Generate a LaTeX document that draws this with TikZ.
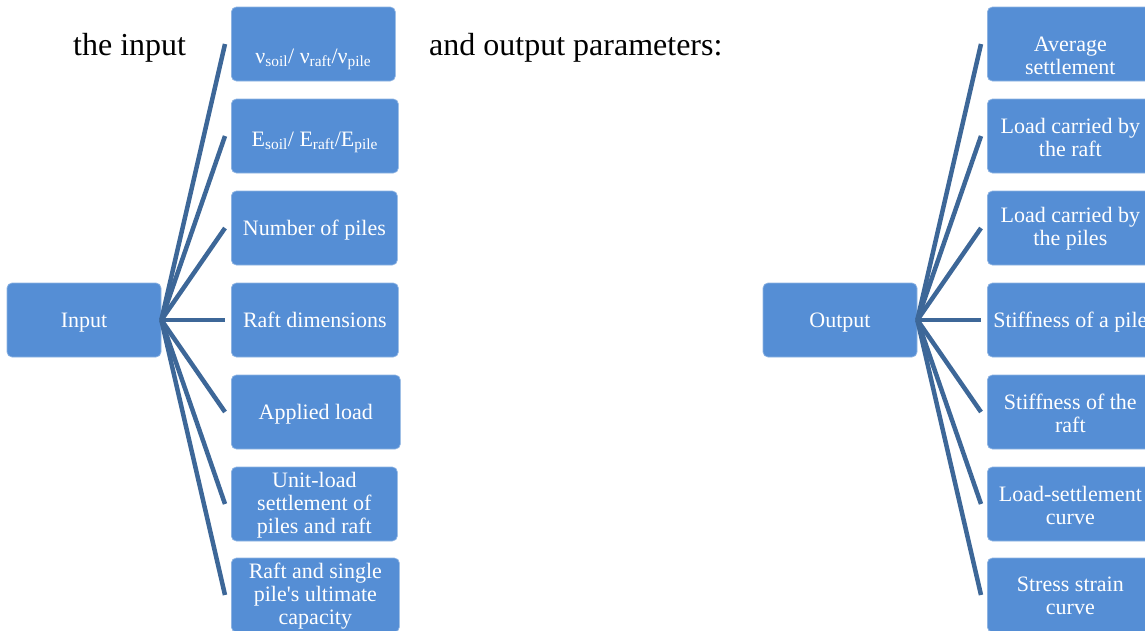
\documentclass[tikz,border=0pt]{standalone}
\usepackage{fontspec}
\setmainfont{Liberation Serif}[Ligatures=TeXOff]
\definecolor{boxblue}{HTML}{558ED5}
\definecolor{boxedge}{HTML}{8DB3E2}
\definecolor{connblue}{HTML}{3D6798}
\tikzset{
  box/.style={rectangle, rounded corners=5pt, fill=boxblue, draw=boxedge, line width=0.7pt,
    minimum height=74pt, inner sep=0pt},
  txt/.style={text=white, align=center, inner sep=0pt,
    font=\fontsize{22}{23}\selectfont},
  txtone/.style={txt, anchor=base},
  conn/.style={draw=connblue, line width=4.5pt},
  head/.style={anchor=base west, inner sep=0pt, font=\fontsize{32}{36}\selectfont}
}
\begin{document}
\begin{tikzpicture}[x=1pt,y=-1pt]
\useasboundingbox (0,0) rectangle (1145,630);
\clip (0,0) rectangle (1145,630);
% headings
\node[head] (h1) at (73,55) {the input};
\node[head] (h2) at (429,55) {and output parameters:};
% root boxes
\node[box, minimum width=154pt] (in) at (84,320) {};
\node[txtone] at ([yshift=-7pt]in.center) {Input};
\node[box, minimum width=154pt] (out) at (840,320) {};
\node[txtone] at ([yshift=-7pt]out.center) {Output};
% left boxes
\node[box, minimum width=164pt, anchor=west] (l1) at (231,44) {};
\node[box, minimum width=167pt, anchor=west] (l2) at (231,136) {};
\node[box, minimum width=166pt, anchor=west] (l3) at (231,228) {};
\node[box, minimum width=167pt, anchor=west] (l4) at (231,320) {};
\node[box, minimum width=169pt, anchor=west] (l5) at (231,412) {};
\node[box, minimum width=166pt, anchor=west] (l6) at (231,504) {};
\node[box, minimum width=168pt, anchor=west] (l7) at (231,595) {};
\node[txtone] at ([yshift=-19pt]l1.center) {ν\textsubscript{soil}/ ν\textsubscript{raft}/ν\textsubscript{pile}};
\node[txtone] at ([yshift=-10pt]l2.center) {E\textsubscript{soil}/ E\textsubscript{raft}/E\textsubscript{pile}};
\node[txtone] at ([yshift=-7pt]l3.center) {Number of piles};
\node[txtone] at ([yshift=-7pt]l4.center) {Raft dimensions};
\node[txtone] at ([yshift=-7pt]l5.center) {Applied load};
\node[txt] at ([yshift=-1pt]l6.center) {Unit-load\\settlement of\\piles and raft};
\node[txt] at ([yshift=-1pt]l7.center) {Raft and single\\pile's ultimate\\capacity};
% right boxes
\foreach \i/\y in {1/44,2/136,3/228,4/320,5/412,6/504,7/595}{
  \node[box, minimum width=166pt, anchor=west] (r\i) at (987,\y) {};
}
\node[txt] at ([yshift=-12pt]r1.center) {Average\\settlement};
\node[txt] at ([yshift=-1pt]r2.center) {Load carried by\\the raft};
\node[txt] at ([yshift=-1pt]r3.center) {Load carried by\\the piles};
\node[txtone] at ([yshift=-7pt]r4.center) {Stiffness of a pile};
\node[txt] at ([yshift=-1pt]r5.center) {Stiffness of the\\raft};
\node[txt] at ([yshift=-1pt]r6.center) {Load-settlement\\curve};
\node[txt] at ([yshift=-1pt]r7.center) {Stress strain\\curve};
% connectors
\foreach \i in {1,...,7}{
  \draw[conn] (in.east) -- ([xshift=-6pt]l\i.west);
  \draw[conn] (out.east) -- ([xshift=-6pt]r\i.west);
}
\end{tikzpicture}
\end{document}
